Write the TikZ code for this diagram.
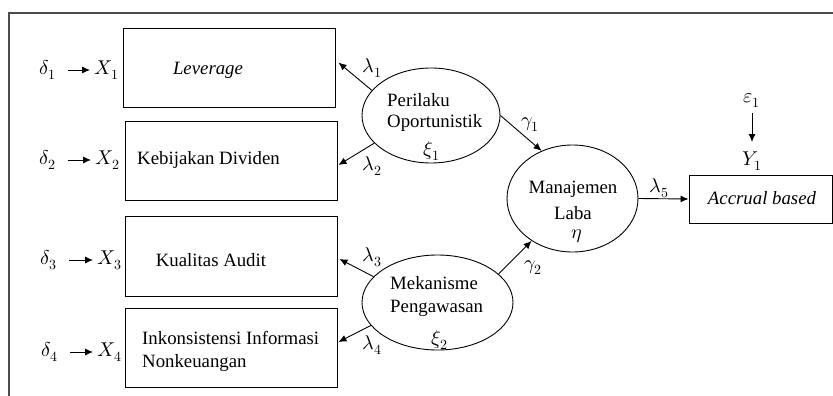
\documentclass[tikz,border=0pt]{standalone}
\usepackage{fontspec}
\usepackage{unicode-math}
\setmainfont{Liberation Serif}
\setmathfont{Latin Modern Math}
\usetikzlibrary{arrows.meta,shapes.geometric}
\begin{document}
\begin{tikzpicture}[x=1pt,y=-1pt,
  every node/.style={font=\fontsize{18.8}{22}\selectfont},
  box/.style={draw,line width=0.9pt,minimum width=212pt,minimum height=79pt,inner sep=0pt},
  lat/.style={draw,ellipse,line width=0.9pt,inner sep=0pt},
  txt/.style={inner sep=0pt},
  mth/.style={inner sep=0pt,font=\fontsize{20}{22}\selectfont},
  arr/.style={-{Latex[length=8pt,width=7pt]},line width=0.9pt},
  frame/.style={draw=black!70,line width=1.6pt}]
\useasboundingbox (0,0) rectangle (833,396);
% frame
\coordinate (fl) at (9,396);
\coordinate (fc) at (9,13);
\coordinate (fr) at (833,13);
\draw[frame] (fl) -- (fc) -- (fr);
% boxes
\node[box] (b1) at (229,67.5) {};
\node[box] (b2) at (231,160.5) {};
\node[box,minimum height=80pt] (b3) at (231,256) {};
\node[box] (b4) at (231,347.5) {};
\node[txt] (t1) at (208,70) {\itshape Leverage};
\node[txt] (t2) at (208.5,160) {Kebijakan Dividen};
\node[txt] (t3) at (211,260) {Kualitas Audit};
\node[txt,anchor=west] (t4a) at (142,338) {Inkonsistensi Informasi};
\node[txt,anchor=west] (t4b) at (142,363) {Nonkeuangan};
% indicators
\node[mth] (d1) at (48,70) {$\delta_1$};
\node[mth] (d2) at (48,160) {$\delta_2$};
\node[mth] (d3) at (49,260) {$\delta_3$};
\node[mth] (d4) at (50,352) {$\delta_4$};
\node[mth] (x1) at (107,70) {$X_1$};
\node[mth] (x2) at (108,160) {$X_2$};
\node[mth] (x3) at (110,260) {$X_3$};
\node[mth] (x4) at (110,352) {$X_4$};
\foreach \i in {1,2,3,4}{
  \draw[arr] ([xshift=20pt]d\i.center) -- ([xshift=-17pt]x\i.center);
}
% latent ellipses
\node[lat,minimum width=138pt,minimum height=95pt] (e1) at (431,115.5) {};
\node[lat,minimum width=131pt,minimum height=107pt] (e2) at (572.5,198.5) {};
\node[lat,minimum width=151pt,minimum height=95pt] (e3) at (437.5,302.5) {};
\node[txt,anchor=west] (e1a) at (387,100) {Perilaku};
\node[txt,anchor=west] (e1b) at (387,123) {Oportunistik};
\node[mth] (e1c) at (432,151) {$\xi_1$};
\node[txt] (e2a) at (573,189) {Manajemen};
\node[txt] (e2b) at (573,213) {Laba};
\node[mth] (e2c) at (577,236) {$\eta$};
\node[txt,anchor=west] (e3a) at (390,283) {Mekanisme};
\node[txt,anchor=west] (e3b) at (390,308) {Pengawasan};
\node[mth] (e3c) at (440,340) {$\xi_2$};
% outcome
\node[draw,line width=0.9pt,minimum width=143pt,minimum height=48pt,inner sep=0pt] (acc) at (760.5,199) {};
\node[txt] (acct) at (762,198) {\itshape Accrual based};
\node[mth] (eps) at (752,100) {$\varepsilon_1$};
\node[mth] (y1) at (752,161) {$Y_1$};
\draw[arr] ([yshift=-13pt]eps.center) -- ([yshift=19pt]y1.center);
% loadings
\draw[arr] (e1.157) -- ([xshift=3pt,yshift=5pt]b1.east);
\draw[arr] (e1.206) -- ([xshift=1pt,yshift=-4.5pt]b2.east);
\draw[arr] (e3.158) -- ([xshift=2pt,yshift=-3pt]b3.east);
\draw[arr] (e3.199) -- ([xshift=1pt,yshift=5.5pt]b4.east);
\draw[arr] (e1.east) -- (e2.123);
\draw[arr] (e3.25) -- (e2.226);
\draw[arr] (e2.east) -- (acc.west);
% labels
\node[mth] (l1) at (372,68) {$\lambda_1$};
\node[mth] (l2) at (372,166) {$\lambda_2$};
\node[mth] (l3) at (372,257) {$\lambda_3$};
\node[mth] (l4) at (372,345) {$\lambda_4$};
\node[mth] (l5) at (659,188) {$\lambda_5$};
\node[mth] (g1) at (530,125) {$\gamma_1$};
\node[mth] (g2) at (533,268) {$\gamma_2$};
\end{tikzpicture}
\end{document}
